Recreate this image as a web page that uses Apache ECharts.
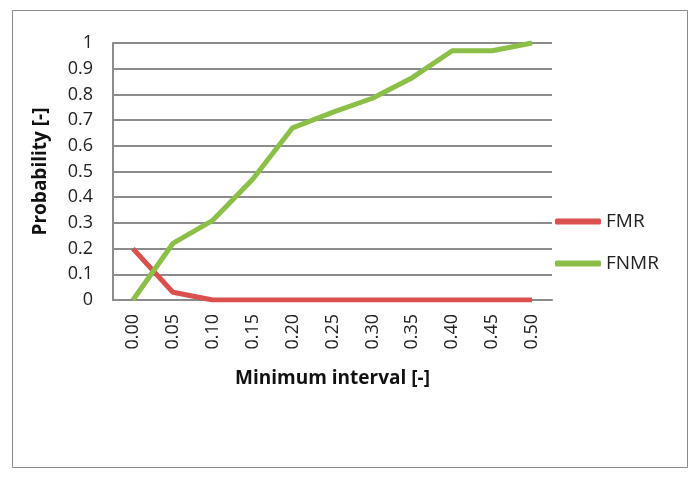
<!DOCTYPE html>
<html><head><meta charset="utf-8">
<script src="https://cdn.jsdelivr.net/npm/echarts@6/dist/echarts.min.js"></script>
<style>html,body{margin:0;padding:0;background:#fff}#c{width:692px;height:479px}</style>
</head><body><div id="c"></div>
<script>
var categories = ['0.00','0.05','0.10','0.15','0.20','0.25','0.30','0.35','0.40','0.45','0.50'];
var fmr = [0.20, 0.03, 0.00, 0.00, 0.00, 0.00, 0.00, 0.00, 0.00, 0.00, 0.00];
var fnmr = [0.00, 0.22, 0.31, 0.47, 0.67, 0.73, 0.785, 0.865, 0.97, 0.97, 1.00];
var yTicks = [0, 0.1, 0.2, 0.3, 0.4, 0.5, 0.6, 0.7, 0.8, 0.9, 1];
var font = '"Open Sans", "Liberation Sans", sans-serif';
var chart = echarts.init(document.getElementById('c'));
chart.setOption({
  animation: false,
  graphic: [{type:'rect', shape:{x:12.5, y:10.5, width:675, height:457}, style:{fill:'none', stroke:'#8a8a8a', lineWidth:1}}],
  grid: {left:113, top:43, width:439, height:257, containLabel:false},
  legend: {orient:'vertical', left:550, top:207, itemWidth:46, itemHeight:6, itemGap:23, icon:'roundRect',
    textStyle:{fontFamily:font, fontSize:19, color:'#222', padding:[0,0,0,0]},
    data:['FMR','FNMR']},
  xAxis: {type:'category', data:categories, boundaryGap:true,
    name:'Minimum interval [-]', nameLocation:'middle', nameGap:69,
    nameTextStyle:{fontFamily:font, fontSize:19, fontWeight:'bold', color:'#111'},
    axisLine:{lineStyle:{color:'#8c8c8c', width:2}}, axisTick:{show:false},
    axisLabel:{rotate:90, margin:14, fontFamily:font, fontSize:18, color:'#222'}},
  yAxis: {type:'value', min:0, max:1, interval:0.1,
    name:'Probability [-]', nameLocation:'middle', nameGap:63,
    nameTextStyle:{fontFamily:font, fontSize:19, fontWeight:'bold', color:'#111'},
    axisLine:{show:true, lineStyle:{color:'#8c8c8c', width:2}}, axisTick:{show:false},
    axisLabel:{margin:20, fontFamily:font, fontSize:18, color:'#222',
      formatter:function(v){ var t = yTicks.find(function(x){return Math.abs(x-v)<1e-9;}); return t===undefined? '' : String(t);}},
    splitLine:{lineStyle:{color:'#8c8c8c', width:2}}},
  series: [
    {name:'FMR', type:'line', data:fmr, symbol:'none', lineStyle:{color:'#d9504d', width:5}, itemStyle:{color:'#d9504d'}},
    {name:'FNMR', type:'line', data:fnmr, symbol:'none', lineStyle:{color:'#8bbf48', width:5}, itemStyle:{color:'#8bbf48'}}
  ]
});
</script></body></html>
